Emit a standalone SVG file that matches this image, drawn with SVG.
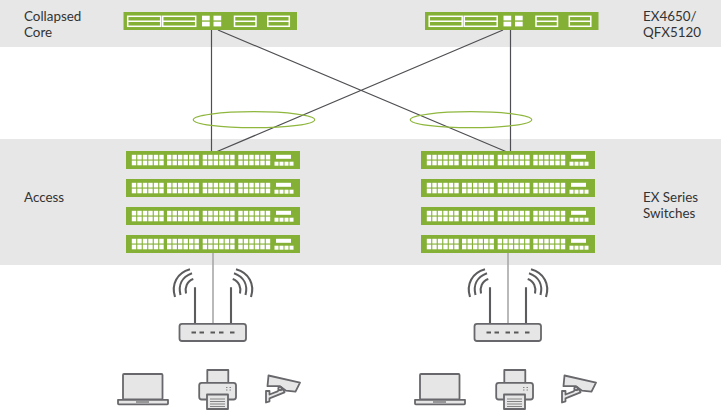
<svg xmlns="http://www.w3.org/2000/svg" width="721" height="410" viewBox="0 0 721 410">
<style>
text{font-family:Lato,"Liberation Sans",sans-serif;font-size:13.4px;fill:#333}
.band{fill:#e7e7e7}
.sw{fill:#84b135}
.w{fill:#fff}
.wo{fill:none;stroke:#fff;stroke-width:1.5}
.conn{fill:none;stroke:#4f4f53;stroke-width:1.2}
.lag{fill:none;stroke:#8fb73e;stroke-width:1.2}
.drop{fill:none;stroke:#a8a8a8;stroke-width:1.6}
.ic{fill:#e6e6e6;stroke:#68686c;stroke-width:1.8;stroke-linejoin:round}
.icl{fill:none;stroke:#5c5c5f;stroke-width:2.1}
.ict{fill:none;stroke:#6a6a6d;stroke-width:.8}
</style>
<defs>
<g id="core">
<rect class="sw" x="0" y="0" width="173.500" height="18"/>
<g class="wo">
<rect x="4.200" y="4.300" width="33" height="10"/><path d="M4.200 9.300h33"/>
<rect x="39.200" y="4.300" width="33" height="10"/><path d="M39.200 9.300h33"/>
<rect x="111" y="4.300" width="21.500" height="10"/><path d="M111 9.300h21.500"/>
<rect x="144.300" y="4.300" width="21.500" height="10"/><path d="M144.300 9.300h21.500"/>
</g>
<g class="w">
<rect x="78.500" y="3.700" width="7.700" height="4.700"/><rect x="78.500" y="9.700" width="7.700" height="4.700"/>
<rect x="90" y="3.700" width="7.700" height="4.700"/><rect x="90" y="9.700" width="7.700" height="4.700"/>
</g>
</g>
<g id="pg" class="w">
<rect x="0" y="0" width="4.400" height="4.700"/><rect x="5.500" y="0" width="4.400" height="4.700"/><rect x="11" y="0" width="4.400" height="4.700"/><rect x="16.500" y="0" width="4.400" height="4.700"/><rect x="22" y="0" width="4.400" height="4.700"/><rect x="27.500" y="0" width="4.400" height="4.700"/>
<rect x="0" y="5.800" width="4.400" height="4.700"/><rect x="5.500" y="5.800" width="4.400" height="4.700"/><rect x="11" y="5.800" width="4.400" height="4.700"/><rect x="16.500" y="5.800" width="4.400" height="4.700"/><rect x="22" y="5.800" width="4.400" height="4.700"/><rect x="27.500" y="5.800" width="4.400" height="4.700"/>
</g>
<g id="acc">
<rect class="sw" x="0" y="0" width="174" height="18"/>
<use href="#pg" x="5.800" y="3.800"/><use href="#pg" x="41" y="3.800"/><use href="#pg" x="76.700" y="3.800"/><use href="#pg" x="112.300" y="3.800"/>
<g class="w">
<rect x="150" y="3.800" width="15" height="4"/>
<rect x="148.500" y="10.700" width="4" height="4"/><rect x="153.500" y="10.700" width="4" height="4"/><rect x="158.500" y="10.700" width="4" height="4"/><rect x="163.500" y="10.700" width="4" height="4"/>
</g>
</g>
<g id="ap">
<path class="icl" d="M195 323V287.300M231 323V287.300"/>
<rect class="ic" x="179.500" y="323.800" width="66.500" height="17.200" rx="2.500"/>
<path d="M191.500 332.500h4.500M199.500 332.500h4.500M210.500 332.500h4.500M219 332.500h4.500M230 332.500h4.500" fill="none" stroke="#58585b" stroke-width="1.800"/>
<path class="icl" d="M175 297C171 284 177 273 190 269.300M180.500 295C178 285 182 277 192 273.300M186 293.500C184.500 288 187 281 193.300 279"/>
<path class="icl" d="M251 297C255 284 249 273 236 269.300M245.500 295C248 285 244 277 234 273.300M240 293.500C241.500 288 239 281 232.700 279"/>
</g>
<g id="laptop">
<rect class="ic" x="123" y="374" width="39.500" height="25.500" rx="1"/>
<path class="ic" d="M118 399.800h50v3.800a.8.8 0 0 1-.8.8h-48.400a.8.8 0 0 1-.8-.8z"/>
<path d="M136 402h13" fill="none" stroke="#58585b" stroke-width="1.100"/>
</g>
<g id="printer">
<rect class="ic" x="207.300" y="370" width="21" height="16"/>
<rect class="ic" x="199.200" y="382.800" width="36.800" height="16.700" rx="2.500"/>
<rect class="ic" x="207" y="394.500" width="21" height="14.500"/>
<path class="ict" d="M210 399h15M210 401.500h15M210 404h15M210 406.500h15"/>
<path class="ict" d="M226 387.500h1.500M229.500 387.500h1.500M226 390h1.500M229.500 390h1.500"/>
</g>
<g id="cam">
<path class="ic" d="M268.500 375.500 300 382.700l-4.500 9-9.500-1-6-4.500-12.500 0z"/>
<path class="ic" d="M266 391h3.500v3.500l8-3.200 2.500-2.300 3.500 1 1 2.300-15 6v3l-3.500 1.200z"/>
<circle class="ic" cx="280" cy="388.500" r="1.700"/>
</g>
</defs>

<rect class="band" x="0" y="0" width="721" height="47"/>
<rect class="band" x="0" y="139" width="721" height="126"/>

<g id="connectors">
<path class="conn" d="M211.500 30V152M218 30L507 152M510.500 30V152M503 30L216 152"/>
<path class="drop" d="M213 253V324M508 253V324"/>
</g>
<g id="lags">
<ellipse class="lag" cx="254" cy="119.700" rx="60.700" ry="8"/>
<ellipse class="lag" cx="471" cy="119.700" rx="60.700" ry="8"/>
</g>

<g id="core-1"><use href="#core" x="123.500" y="12"/></g>
<g id="core-2"><use href="#core" x="425" y="12"/></g>
<g id="access-1a"><use href="#acc" x="126" y="151"/></g>
<g id="access-1b"><use href="#acc" x="126" y="179"/></g>
<g id="access-1c"><use href="#acc" x="126" y="207"/></g>
<g id="access-1d"><use href="#acc" x="126" y="235"/></g>
<g id="access-2a"><use href="#acc" x="421" y="151"/></g>
<g id="access-2b"><use href="#acc" x="421" y="179"/></g>
<g id="access-2c"><use href="#acc" x="421" y="207"/></g>
<g id="access-2d"><use href="#acc" x="421" y="235"/></g>
<g id="ap-1"><use href="#ap"/></g>
<g id="ap-2"><use href="#ap" x="295"/></g>
<g id="laptop-1"><use href="#laptop"/></g>
<g id="printer-1"><use href="#printer"/></g>
<g id="camera-1"><use href="#cam"/></g>
<g id="laptop-2"><use href="#laptop" x="297"/></g>
<g id="printer-2"><use href="#printer" x="297"/></g>
<g id="camera-2"><use href="#cam" x="296"/></g>

<g id="labels">
<text x="24" y="21">Collapsed</text>
<text x="24" y="37">Core</text>
<text x="24" y="202">Access</text>
<text x="643" y="21">EX4650/</text>
<text x="643" y="37">QFX5120</text>
<text x="643" y="202">EX Series</text>
<text x="643" y="218">Switches</text>
</g>
</svg>
